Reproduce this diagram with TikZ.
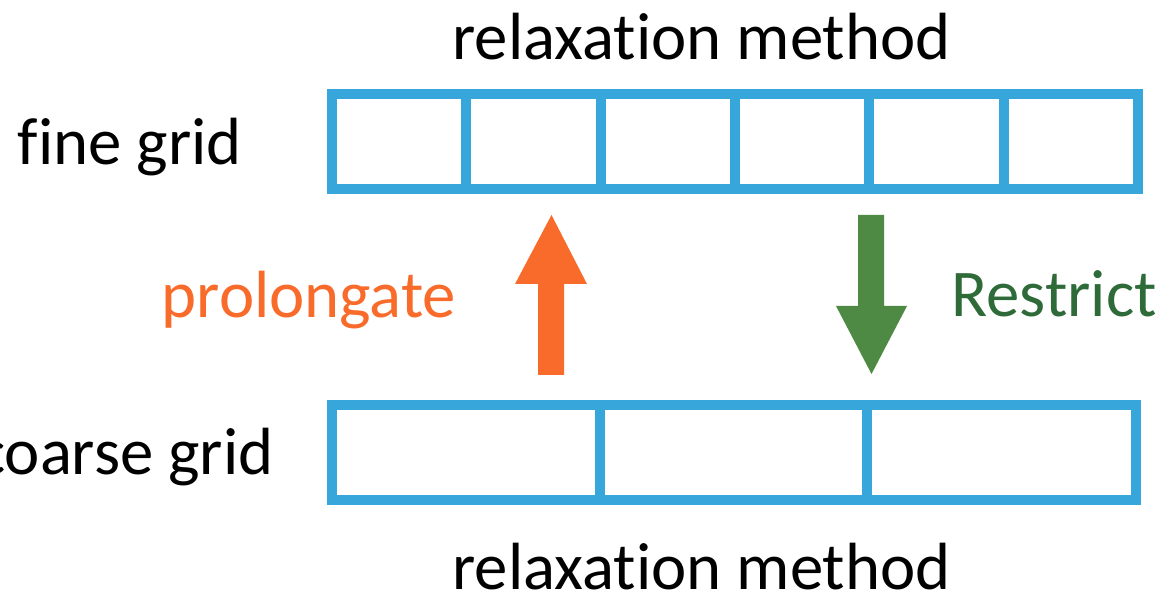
\documentclass[tikz,border=0pt]{standalone}
\usepackage{fontspec}
\setmainfont{Carlito}[Ligatures={NoCommon,NoContextual}]
\usepackage{color}
\usepackage{tikz}

\definecolor{gridblue}{HTML}{36A6DB}
\definecolor{prolorange}{HTML}{F96B2B}
\definecolor{restrgreen}{HTML}{4E8A43}
\definecolor{restrtext}{HTML}{2F6B38}

\begin{document}
\begin{tikzpicture}[x=0.02cm,y=-0.02cm]
    \tikzset{gridbox/.style={draw=gridblue,line width=0.2cm,inner sep=0pt,minimum height=1.91cm},
      cellline/.style={draw=gridblue,line width=0.2cm},
      lbl/.style={inner sep=0pt,anchor=base,font=\fontsize{38}{44}\selectfont}}
    \useasboundingbox (0,0) rectangle (1162,590);
    \node[gridbox,minimum width=16.12cm] (fine) at (735,141.25) {};
    \node[gridbox,minimum width=16.08cm] (coarse) at (734,452.25) {};
    \foreach \k in {1,...,5}
      \draw[cellline] ({332+\k*134.33},93.5) -- ({332+\k*134.33},189);
    \foreach \k in {1,2}
      \draw[cellline] ({332+\k*267.5},404.5) -- ({332+\k*267.5},500);
    \fill[prolorange] (538,375) -- (538,284) -- (515,284) -- (551.5,215) -- (587,284) -- (564,284) -- (564,375) -- cycle;
    \fill[restrgreen] (858,215) -- (884,215) -- (884,306) -- (907,306) -- (871.5,374) -- (836,306) -- (858,306) -- cycle;
    \node[lbl] (relaxtop) at (701.5,60) {relaxat\kern0pt ion method};
    \node[lbl] (relaxbot) at (701.5,589) {relaxat\kern0pt ion method};
    \node[lbl] (finelbl) at (130,165) {fine grid};
    \node[lbl,anchor=base east] (coarselbl) at (274,475) {coarse grid};
    \node[lbl,text=prolorange] (prolong) at (309,318) {prolongate};
    \node[lbl,text=restrtext] (restrict) at (1054,317) {Restrict};
  \end{tikzpicture}
\end{document}
